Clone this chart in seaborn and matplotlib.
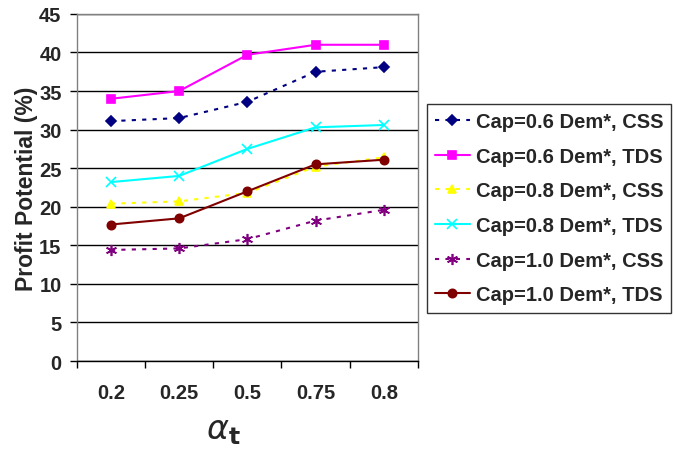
import numpy as np
import pandas as pd
import matplotlib
matplotlib.use("Agg")
import matplotlib.pyplot as plt
import seaborn as sns

categories = ["0.2", "0.25", "0.5", "0.75", "0.8"]
series_names = ["Cap=0.6 Dem*, CSS", "Cap=0.6 Dem*, TDS", "Cap=0.8 Dem*, CSS",
                "Cap=0.8 Dem*, TDS", "Cap=1.0 Dem*, CSS", "Cap=1.0 Dem*, TDS"]
cap06_css = [31.1, 31.5, 33.6, 37.5, 38.1]
cap06_tds = [34.0, 35.0, 39.7, 41.0, 41.0]
cap08_css = [20.4, 20.7, 21.8, 25.2, 26.4]
cap08_tds = [23.2, 24.0, 27.5, 30.3, 30.6]
cap10_css = [14.4, 14.6, 15.8, 18.2, 19.6]
cap10_tds = [17.7, 18.5, 22.0, 25.5, 26.1]
all_vals = [cap06_css, cap06_tds, cap08_css, cap08_tds, cap10_css, cap10_tds]

rows = []
for name, vals in zip(series_names, all_vals):
    for i, v in enumerate(vals):
        rows.append({"series": name, "pos": i, "value": v})
df = pd.DataFrame(rows)

sns.set_theme(style="white")
plt.rcParams['font.family'] = ['Liberation Sans', 'DejaVu Sans']

colors = {series_names[0]: "#000080", series_names[1]: "#FF00FF", series_names[2]: "#FFFF00",
          series_names[3]: "#00FFFF", series_names[4]: "#800080", series_names[5]: "#800000"}
markers = {series_names[0]: "D", series_names[1]: "s", series_names[2]: "^",
           series_names[3]: "x", series_names[4]: (6, 2, 0), series_names[5]: "o"}
dashes = {series_names[0]: (2, 3), series_names[1]: "", series_names[2]: (2, 3),
          series_names[3]: "", series_names[4]: (2, 3), series_names[5]: ""}
msizes = {series_names[0]: 5, series_names[1]: 6, series_names[2]: 6,
          series_names[3]: 7, series_names[4]: 8, series_names[5]: 6}

fig = plt.figure(figsize=(6.74, 4.52), dpi=100)
ax = fig.add_axes([0.114, 0.199, 0.506, 0.768])

for name in series_names:
    sub = df[df["series"] == name]
    sns.lineplot(data=sub, x="pos", y="value", ax=ax, color=colors[name],
                 marker=markers[name], markersize=msizes[name],
                 markeredgecolor=colors[name], markeredgewidth=1.2,
                 dashes=dashes[name] if dashes[name] else (None, None),
                 linewidth=1.5, label=name)

ax.set_xlim(-0.5, 4.5)
ax.set_ylim(0, 45)
ax.set_yticks(np.arange(0, 46, 5))
ax.yaxis.grid(True, color="black", linewidth=1)
ax.xaxis.grid(False)
ax.set_xticks(np.arange(-0.5, 4.6, 1.0))
ax.set_xticklabels([])
ax.set_xticks(np.arange(len(categories)), minor=True)
ax.set_xticklabels(categories, minor=True)
ax.tick_params(axis="x", which="major", direction="out", length=5, width=1, color="black", bottom=True)
ax.tick_params(axis="x", which="minor", length=0, pad=16, labelsize=14.5)
ax.tick_params(axis="y", direction="out", length=5, width=1, color="black", left=True,
               labelsize=14.5, pad=6)
for lab in ax.get_xticklabels(minor=True) + ax.get_yticklabels():
    lab.set_fontweight("bold")

for side in ["top", "right", "left"]:
    ax.spines[side].set_color("#808080")
ax.spines["bottom"].set_color("black")
for s in ax.spines.values():
    s.set_linewidth(1)

ax.set_ylabel("Profit Potential (%)", fontsize=16.5, fontweight="bold", labelpad=1)
ax.set_xlabel(r"$\alpha_\mathbf{t}$", fontsize=24)
ax.xaxis.set_label_coords(0.43, -0.155)

leg = ax.legend(loc="upper left", bbox_to_anchor=(0.634, 0.768), bbox_transform=fig.transFigure,
                frameon=True, fancybox=False, handlelength=1.7, handletextpad=0.3,
                labelspacing=0.78, borderpad=0.4, borderaxespad=0,
                prop={"weight": "bold", "size": 14.5})
leg.get_frame().set_edgecolor("black")
leg.get_frame().set_linewidth(1)

fig.savefig("out.png", dpi=100)
